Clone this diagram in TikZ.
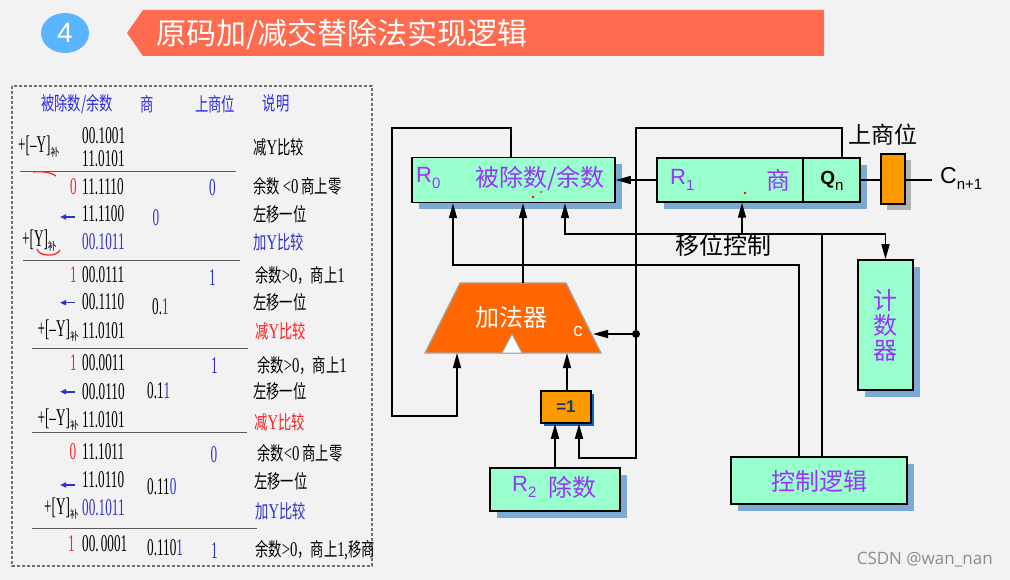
\documentclass[tikz,border=0pt]{standalone}
\usepackage{fontspec}
\usepackage{graphicx}
\setmainfont{Liberation Serif}
\newfontfamily\cjk{Noto Sans CJK SC}
\newfontfamily\sansf{Liberation Sans}
\newfontfamily\wmf{Open Sans}
\usetikzlibrary{arrows.meta,shadows}
\definecolor{bg}{HTML}{F2F2F2}
\definecolor{banner}{HTML}{FF6B4F}
\definecolor{circ}{HTML}{5AB4FF}
\definecolor{hdr}{HTML}{2B2BE6}
\definecolor{bnum}{HTML}{3030CC}
\definecolor{rdig}{HTML}{FF2020}
\definecolor{mint}{HTML}{99FFCC}
\definecolor{shad}{HTML}{7BAAD6}
\definecolor{purp}{HTML}{9933FF}
\definecolor{addc}{HTML}{FF6600}
\definecolor{orng}{HTML}{FF9900}
\definecolor{xsh}{HTML}{0066CC}
\definecolor{navy}{HTML}{1F3864}
\definecolor{frame}{HTML}{707070}
\newcommand\numt[1]{\scalebox{0.55}[1]{\fontsize{24}{24}\selectfont #1}}
\newcommand\desc[1]{\scalebox{0.7}[1]{\cjk\fontsize{19}{19}\selectfont #1}}
\newcommand\lat{\rmfamily\fontsize{21}{21}\selectfont}
\newcommand\Yc[1]{\numt{+[#1]}\raisebox{-4pt}{\scalebox{0.8}[1]{\cjk\fontsize{11}{11}\selectfont 补}}}
\newcommand\subx[1]{\raisebox{-6pt}{\fontsize{15}{15}\selectfont #1}}
\begin{document}
\begin{tikzpicture}[x=1pt,y=-1pt,
  ln/.style={line width=1.5pt, black},
  arr/.style={ln, -{Triangle[length=15pt,width=8pt]}},
  barr/.style={line width=1.6pt, color=bnum, -{Triangle[length=6pt,width=5pt]}},
  hl/.style={line width=1pt, color=black!65},
  tx/.style={inner sep=0pt, anchor=west},
  hd/.style={inner sep=0pt, text=hdr},
  box/.style={draw=black, line width=1.5pt, fill=mint, inner sep=0pt,
    general shadow={fill=shad, shadow xshift=7pt, shadow yshift=-7pt}},
  pl/.style={inner sep=0pt, text=purp, font=\sansf\fontsize{22}{22}\selectfont},
  pc/.style={inner sep=0pt, text=purp, font=\cjk\fontsize{24}{24}\selectfont},
  bl/.style={inner sep=0pt, text=black, font=\cjk\fontsize{23}{23}\selectfont}]
\useasboundingbox (0,0) rectangle (1010,580);
\fill[bg] (0,0) rectangle (1010,580);
% title
\fill[circ] (65,33) ellipse [x radius=24pt, y radius=20pt];
\node[text=white, font=\sansf\fontsize{28}{28}\selectfont, inner sep=0pt] (num) at (65,33) {4};
\fill[banner] (127,33) -- (143,10) -- (824,10) -- (824,56) -- (143,56) -- cycle;
\node[text=white, font=\cjk\fontsize{30}{30}\selectfont, anchor=west, inner sep=0pt] (title) at (156,34) {原码加/减交替除法实现逻辑};
% table frame
\draw[frame, line width=1.2pt, dash pattern=on 3pt off 2pt] (12,86) rectangle (372,566);
\node[hd] (h1) at (77,104) {\scalebox{0.7}[1]{\cjk\fontsize{19}{19}\selectfont 被除数/余数}};
\node[hd] (h2) at (147,104) {\scalebox{0.7}[1]{\cjk\fontsize{19}{19}\selectfont 商}};
\node[hd] (h3) at (215,104) {\scalebox{0.7}[1]{\cjk\fontsize{19}{19}\selectfont 上商位}};
\node[hd] (h4) at (276,103) {\scalebox{0.7}[1]{\cjk\fontsize{19}{19}\selectfont 说明}};
% block 1
\node[tx] (a1) at (82,136) {\numt{00.1001}};
\node[tx] (a2) at (82,159) {\numt{11.0101}};
\node[tx] (y1) at (18,147) {\Yc{–Y}};
\node[tx] (d1) at (253,147) {\desc{减{\lat Y}比较}};
\draw[hl] (20,171.5) -- (236,171.5);
\draw[rdig, line width=1.2pt] (33,172) .. controls (45,171) and (52,173) .. (56,176);
\node[tx, text=rdig, anchor=east] (c1) at (77,187) {\numt{0}};
\node[tx] (a3) at (82,187) {\numt{11.1110}};
\node[inner sep=0pt, text=bnum] (s1) at (212.5,188) {\numt{0}};
\node[tx] (d2) at (253,186) {\desc{余数 {\lat <0} 商上零}};
\draw[barr] (75,217) -- (60,217);
\node[tx] (a4) at (82,214) {\numt{11.1100}};
\node[inner sep=0pt, text=bnum] (q1) at (156,218) {\numt{0}};
\node[tx] (d3) at (253,214) {\desc{左移一位}};
\node[tx] (y2) at (22,241) {\Yc{Y}};
\node[tx, text=bnum] (a5) at (82,242) {\numt{00.1011}};
\node[tx, text=bnum] (d4) at (253,242.5) {\desc{加{\lat Y}比较}};
\draw[rdig, line width=1.2pt] (37,249) .. controls (39,257) and (57,257) .. (60,250);
\draw[hl] (23,260.7) -- (240,260.7);
% block 2
\node[tx, text=rdig, anchor=east] (c2) at (77,275) {\numt{1}};
\node[tx] (a6) at (82,275) {\numt{00.0111}};
\node[inner sep=0pt, text=bnum] (s2) at (212.5,278) {\numt{1}};
\node[tx] (d5) at (255,275) {\desc{余数{\lat >0}，商上{\lat 1}}};
\draw[barr] (75,302.7) -- (60,302.7);
\node[tx] (a7) at (82,302) {\numt{00.1110}};
\node[tx] (q2) at (152,306.7) {\numt{0.\textcolor{bnum}{1}}};
\node[tx] (d6) at (253,302) {\desc{左移一位}};
\node[tx, anchor=east] (y3) at (79,331) {\Yc{–Y}};
\node[tx] (a8) at (82,331) {\numt{11.0101}};
\node[tx, text=rdig] (d7) at (255,331) {\desc{减{\lat Y}比较}};
\draw[hl] (32,348) -- (248,348);
% block 3
\node[tx, text=rdig, anchor=east] (c3) at (77,363) {\numt{1}};
\node[tx] (a9) at (82,363) {\numt{00.0011}};
\node[inner sep=0pt, text=bnum] (s3) at (214.5,366) {\numt{1}};
\node[tx] (d8) at (257,365) {\desc{余数{\lat >0}，商上{\lat 1}}};
\draw[barr] (75,391.7) -- (60,391.7);
\node[tx] (a10) at (82,391.7) {\numt{00.0110}};
\node[tx] (q3) at (147,391) {\numt{0.1\textcolor{bnum}{1}}};
\node[tx] (d9) at (253,391) {\desc{左移一位}};
\node[tx, anchor=east] (y4) at (79,420) {\Yc{–Y}};
\node[tx] (a11) at (82,420) {\numt{11.0101}};
\node[tx, text=rdig] (d10) at (254,422) {\desc{减{\lat Y}比较}};
\draw[hl] (32,432.7) -- (247,432.7);
% block 4
\node[tx, text=rdig, anchor=east] (c4) at (76.5,452) {\numt{0}};
\node[tx] (a12) at (82,452) {\numt{11.1011}};
\node[inner sep=0pt, text=bnum] (s4) at (214,455) {\numt{0}};
\node[tx] (d11) at (257,453) {\desc{余数{\lat <0} 商上零}};
\draw[barr] (75,485) -- (60,485);
\node[tx] (a13) at (82,480) {\numt{11.0110}};
\node[tx] (q4) at (147,487) {\numt{0.11\textcolor{bnum}{0}}};
\node[tx] (d12) at (254,481) {\desc{左移一位}};
\node[tx, anchor=east] (y5) at (79,509) {\Yc{Y}};
\node[tx, text=bnum] (a14) at (82,508) {\numt{00.1011}};
\node[tx, text=bnum] (d13) at (255,511) {\desc{加{\lat Y}比较}};
\draw[hl] (32,528) -- (257,528);
% block 5
\node[tx, text=rdig, anchor=east] (c5) at (75,544) {\numt{1}};
\node[tx] (a15) at (82,544) {\numt{00.\,0001}};
\node[tx] (q5) at (147,548) {\numt{0.110\textcolor{bnum}{1}}};
\node[inner sep=0pt, text=bnum] (s5) at (214.5,551) {\numt{1}};
\node[tx] (d14) at (255,550) {\desc{余数{\lat >0}，商上{\lat 1},移商}};
% ===== right diagram =====
\node[box, minimum width=203pt, minimum height=45pt] (R0) at (513.5,180) {};
\node[box, minimum width=146pt, minimum height=44pt] (R1) at (730,180) {};
\node[box, minimum width=57pt, minimum height=44pt] (Qn) at (831.5,180) {};
\node[draw=black, line width=1.5pt, fill=orng, inner sep=0pt, minimum width=24pt, minimum height=50pt,
  general shadow={fill=black!30, shadow xshift=6pt, shadow yshift=-6pt}] (sb) at (893,179) {};
\node[box, minimum width=55pt, minimum height=130pt] (cnt) at (885.5,325) {};
\node[box, minimum width=176pt, minimum height=47pt] (ctrl) at (819,480.5) {};
\node[draw=black, line width=1.5pt, fill=orng, inner sep=0pt, minimum width=50pt, minimum height=32pt,
  general shadow={fill=xsh, shadow xshift=3pt, shadow yshift=-3pt},
  text=navy, font=\sansf\bfseries\fontsize{17}{17}\selectfont] (xor) at (566,407) {=1};
\node[box, minimum width=130pt, minimum height=43pt] (R2) at (555,489.5) {};
% adder
\draw[fill=addc, draw=black!35, line width=1.2pt] (460,283) -- (566,283) -- (601,353) -- (425,353) -- cycle;
\draw[fill=white, draw=black!35, line width=1pt] (502,353) -- (512,334) -- (522,353) -- cycle;
\node[inner sep=0pt, text=white, font=\cjk\fontsize{24}{24}\selectfont] (adder) at (511,317) {加法器};
\node[inner sep=0pt, text=white, font=\sansf\fontsize{19}{19}\selectfont] (cl) at (578,331) {c};
\coordinate (adL) at (457,353);
\coordinate (adR) at (567,353);
\coordinate (adT) at (523,283);
\coordinate (adC) at (593,334);
% labels in boxes
\node[pl, anchor=west] (r0l) at (416,178) {R\subx{0}};
\node[pc] (r0t) at (540,178) {被除数/余数};
\node[pl, anchor=west] (r1l) at (670,180) {R\subx{1}};
\node[pc] (r1t) at (778,180) {商};
\node[inner sep=0pt, font=\sansf\bfseries\fontsize{19}{19}\selectfont] (qnl) at (832,181) {Q\subx{\mdseries n}};
\node[pl, anchor=west] (r2l) at (512,487) {R\subx{2}};
\node[pc] (r2t) at (572,487) {除数};
\node[pc, align=center, font=\cjk\fontsize{24}{25}\selectfont] (cntt) at (885,325) {计\\数\\器};
\node[pc] (ctrlt) at (819,481) {控制逻辑};
\node[bl] (sslab) at (883,135) {上商位};
\node[bl, font=\cjk\fontsize{24}{24}\selectfont] (shift) at (723,245) {移位控制};
\node[inner sep=0pt, anchor=west, font=\sansf\fontsize{23}{23}\selectfont] (cn) at (940,178) {C\subx{n+1}};
% red specks
\fill[red] (533,197) circle (1.3pt) (541,192) circle (1pt) (745,193) circle (1.3pt);
% connectors
\draw[arr] (511,0 |- R0.north) |- (392,128) |- (457,416) -- (adL);
\draw[arr] (R1.west) -- (R0.east);
\coordinate (dot) at (636,334);
\draw[arr] (842,0 |- Qn.north) |- (636,128) |- (579,458) -- (579,0 |- xor.south);
\draw[arr] (dot) -- (adC);
\fill (dot) circle (4pt);
\draw[arr] (adT) -- (523,0 |- R0.south);
\draw[arr] (799,0 |- ctrl.north) |- (453,265) -- (453,0 |- R0.south);
\coordinate (bus) at (822,234);
\draw[ln] (822,0 |- ctrl.north) -- (bus);
\draw[arr] (bus) -| (565,0 |- R0.south);
\draw[arr] (bus) -| (cnt.north);
\draw[arr] (742,234) -- (742,0 |- R1.south);
\draw[arr] (567,0 |- xor.north) -- (adR);
\draw[arr] (555,0 |- R2.north) -- (555,0 |- xor.south);
\draw[ln] (Qn.east) -- (Qn.east -| sb.west);
\draw[ln, shorten >=8pt] (sb.east |- Qn.east) -- (cn.west |- Qn.east);
% watermark
\node[inner sep=0pt, anchor=east, text=black!45, font=\wmf\fontsize{17}{17}\selectfont] (wm) at (993,560) {CSDN @wan\_nan};
\end{tikzpicture}
\end{document}
